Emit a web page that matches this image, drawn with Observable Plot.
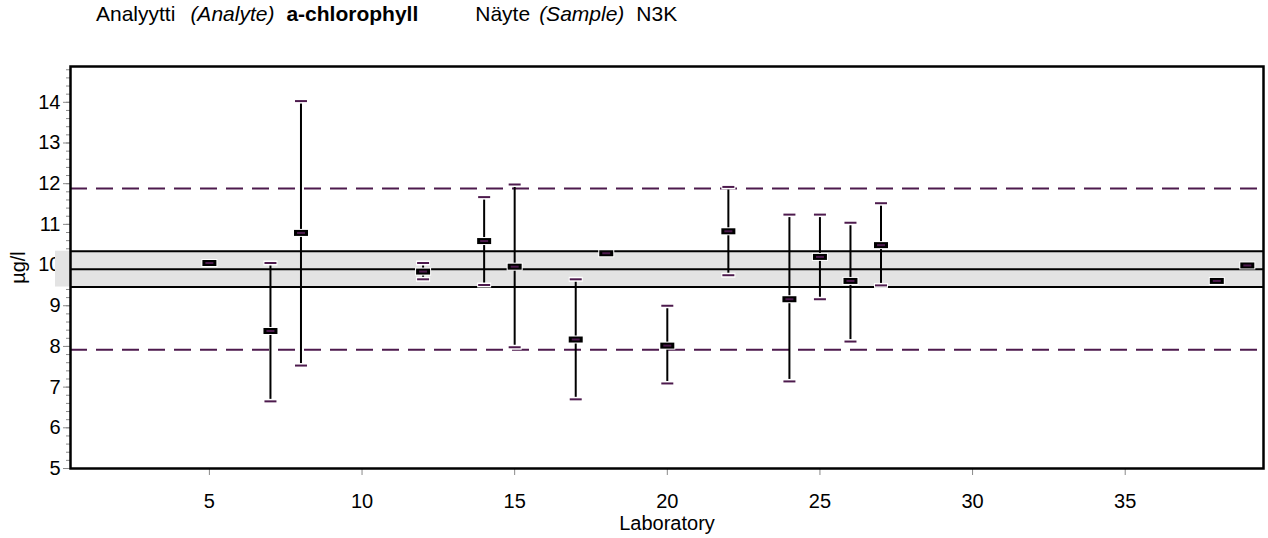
<!DOCTYPE html>
<html>
<head>
<meta charset="utf-8">
<script src="https://cdn.jsdelivr.net/npm/d3@7"></script>
<script src="https://cdn.jsdelivr.net/npm/@observablehq/plot@0.6"></script>
<style>
  body { margin: 0; background: #fff; font-family: "Liberation Sans", Arial, sans-serif; }
  #title { height: 30px; line-height: 28px; padding-left: 96px; font-size: 21px; color: #000; white-space: nowrap; }
  #title span { display: inline-block; }
</style>
</head>
<body>
<div id="title"><span style="margin-right:15px">Analyytti</span><span style="margin-right:12px"><i>(Analyte)</i></span><span style="margin-right:57px"><b>a-chlorophyll</b></span><span style="margin-right:9px">Näyte</span><span style="margin-right:12px"><i>(Sample)</i></span><span>N3K</span></div>
<div id="chart"></div>
<script>
// Laboratory results
const labs    = [5, 7, 8, 12, 14, 15, 17, 18, 20, 22, 24, 25, 26, 27, 38, 39];
const results = [10.05, 8.38, 10.79, 9.84, 10.59, 9.96, 8.17, 10.29, 8.02, 10.83, 9.16, 10.20, 9.61, 10.49, 9.61, 9.99];
const lower   = [null, 6.65, 7.53, 9.65, 9.51, 7.98, 6.70, null, 7.09, 9.75, 7.14, 9.16, 8.12, 9.50, null, null];
const upper   = [null, 10.05, 14.03, 10.05, 11.67, 11.98, 9.65, null, 9.00, 11.92, 11.24, 11.24, 11.04, 11.52, null, null];

// Reference values
const assignedValue = 9.90;
const bandLow = 9.46, bandHigh = 10.34;
const limitLow = 7.92, limitHigh = 11.88;

// Axis ticks
const yTicks = [5, 6, 7, 8, 9, 10, 11, 12, 13, 14];
const yMinorTicks = d3.range(50, 149, 2).map(d => d / 10);
const xTicks = [5, 10, 15, 20, 25, 30, 35];
const xLabel = "Laboratory";
const yLabel = "µg/l";

const data = labs.map((lab, i) => ({lab, value: results[i], lo: lower[i], hi: upper[i]}));
const bars = data.filter(d => d.lo != null);
const caps = bars.flatMap(d => [{lab: d.lab, y: d.lo}, {lab: d.lab, y: d.hi}]);

const purple = "#4d1a4d";
const capSymbol = {draw(ctx) { ctx.moveTo(-6, 0); ctx.lineTo(6, 0); }};
const capHalo = {draw(ctx) { ctx.moveTo(-7, 0); ctx.lineTo(7, 0); }};
const markSymbol = {draw(ctx) { ctx.rect(-7, -3, 14, 6); }};
const markHalo = {draw(ctx) { ctx.rect(-8, -4, 16, 8); }};
const markInner = {draw(ctx) { ctx.moveTo(-4, 0); ctx.lineTo(4, 0); }};

const plot = Plot.plot({
  width: 1268,
  height: 508,
  marginTop: 36,
  marginBottom: 70,
  marginLeft: 70,
  marginRight: 5,
  style: {fontFamily: "'Liberation Sans', Arial, sans-serif", fontSize: "20px", color: "#000", background: "#fff"},
  x: {domain: [0.45, 39.53]},
  y: {domain: [5, 14.88]},
  marks: [
    Plot.axisY({ticks: yMinorTicks, tickSize: 4, text: null, label: null, stroke: "#8a8a8a"}),
    Plot.axisY({ticks: yTicks, tickSize: 7, tickPadding: 3, label: null, stroke: "#8a8a8a", fill: "#000", fontSize: 20}),
    Plot.axisX({ticks: xTicks, tickSize: 7, tickPadding: 18, label: null, stroke: "#8a8a8a", fill: "#000", fontSize: 20}),
    Plot.text([xLabel], {frameAnchor: "bottom", lineAnchor: "middle", dy: 55, text: d => d, fontSize: 20}),
    Plot.text([yLabel], {frameAnchor: "left", lineAnchor: "middle", textAnchor: "middle", dx: -52, rotate: -90, text: d => d, fontSize: 20}),
    Plot.rectY([{lo: bandLow, hi: bandHigh}], {y1: "lo", y2: "hi", fill: "#e3e3e3", insetLeft: -15}),
    Plot.ruleY([bandLow, assignedValue, bandHigh], {stroke: "#000", strokeWidth: 2}),
    Plot.ruleY([limitLow, limitHigh], {stroke: purple, strokeWidth: 2, strokeDasharray: "17 9"}),
    Plot.ruleX(bars, {x: "lab", y1: "lo", y2: "hi", stroke: "#000", strokeWidth: 2}),
    Plot.dot(caps, {x: "lab", y: "y", symbol: capHalo, stroke: "#fff", strokeWidth: 5}),
    Plot.dot(caps, {x: "lab", y: "y", symbol: capSymbol, stroke: purple, strokeWidth: 2}),
    Plot.dot(data, {x: "lab", y: "value", symbol: markHalo, fill: "#fff", stroke: "none"}),
    Plot.dot(data, {x: "lab", y: "value", symbol: markSymbol, fill: "#000", stroke: "none"}),
    Plot.dot(data, {x: "lab", y: "value", symbol: markInner, stroke: purple, strokeWidth: 2}),
    Plot.frame({stroke: "#000", strokeWidth: 2.5})
  ]
});
document.getElementById("chart").appendChild(plot);
</script>
</body>
</html>
